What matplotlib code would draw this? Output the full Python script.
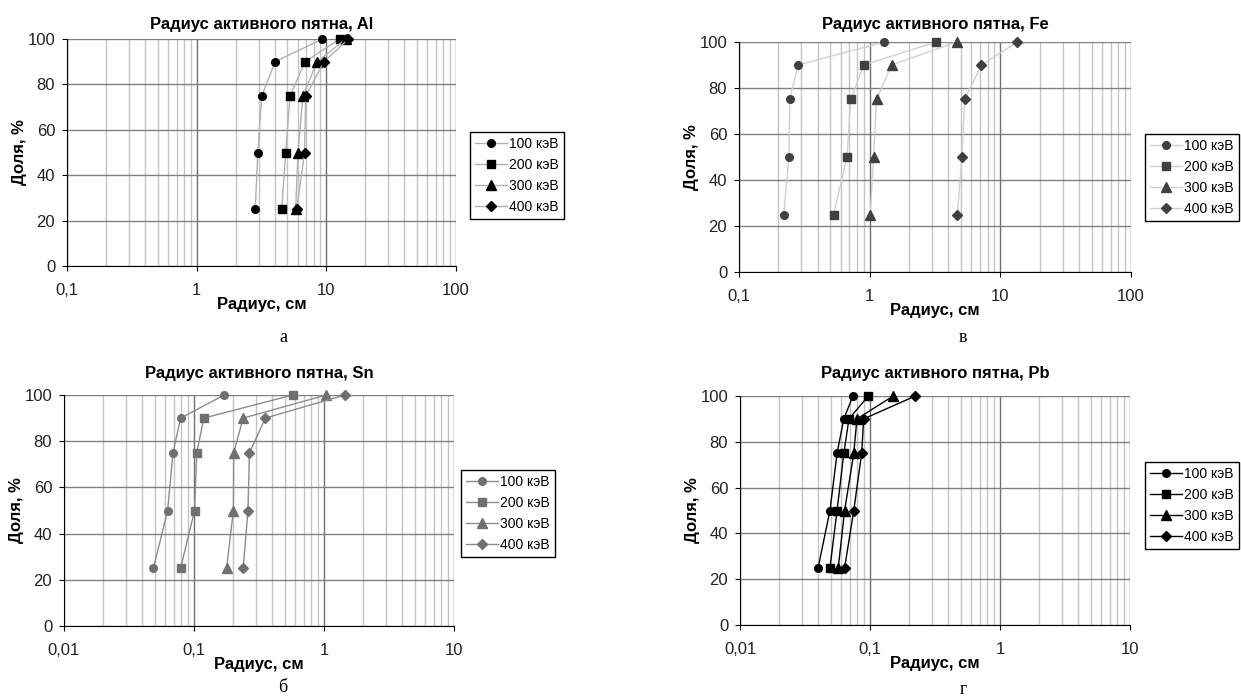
import numpy as np
import matplotlib.pyplot as plt
from matplotlib.ticker import FixedLocator, FixedFormatter, LogLocator, NullFormatter

plt.rcParams['font.family'] = ['Liberation Sans', 'DejaVu Sans']

# доля, %
dolya = [25, 50, 75, 90, 100]
energies = ['100 кэВ', '200 кэВ', '300 кэВ', '400 кэВ']

# радиус, см
r_al = [[2.83, 2.96, 3.18, 4.03, 9.3],
        [4.53, 4.86, 5.25, 6.85, 12.7],
        [5.8, 6.05, 6.6, 8.5, 14.1],
        [5.9, 6.8, 6.93, 9.6, 14.8]]
r_fe = [[0.22, 0.241, 0.245, 0.283, 1.29],
        [0.53, 0.67, 0.716, 0.90, 3.23],
        [1.01, 1.07, 1.13, 1.47, 4.64],
        [4.68, 5.08, 5.34, 7.16, 13.5]]
r_sn = [[0.0487, 0.0627, 0.0689, 0.0789, 0.171],
        [0.0789, 0.101, 0.105, 0.119, 0.574],
        [0.178, 0.201, 0.202, 0.239, 1.04],
        [0.239, 0.26, 0.267, 0.354, 1.45]]
r_pb = [[0.0399, 0.0492, 0.0558, 0.0629, 0.0739],
        [0.0492, 0.0558, 0.0629, 0.0689, 0.097],
        [0.057, 0.0638, 0.075, 0.0793, 0.151],
        [0.0638, 0.075, 0.0863, 0.0894, 0.223]]

ticks_a = [0.1, 1, 10, 100]
labels_a = ['0,1', '1', '10', '100']
ticks_b = [0.01, 0.1, 1, 10]
labels_b = ['0,01', '0,1', '1', '10']
y_ticks = [0, 20, 40, 60, 80, 100]

markers = ['o', 's', '^', 'D']
msizes = [5.5, 6, 6.5, 5]

W, H = 1241, 698


def frac_rect(x0, y0, x1, y1):
    # пиксели -> доли фигуры
    return [x0 / W, 1 - y1 / H, (x1 - x0) / W, (y1 - y0) / H]


panels = [
    # data, title, ticks, labels, axes px, marker color, line color, legend (right, top) px, caption, title pad
    (r_al, 'Радиус активного пятна, Al', ticks_a, labels_a, (67, 39, 456, 266),
     'black', '#b0b0b0', (564, 132), ('а', 283, 338), 7),
    (r_fe, 'Радиус активного пятна, Fe', ticks_a, labels_a, (739, 42, 1131, 272),
     '#404040', '#d0d0d0', (1239, 134), ('в', 963, 338), 9),
    (r_sn, 'Радиус активного пятна, Sn', ticks_b, labels_b, (64, 395, 454, 626),
     '#707070', '#8c8c8c', (555, 470), ('б', 283, 687), 12),
    (r_pb, 'Радиус активного пятна, Pb', ticks_b, labels_b, (740, 396, 1130, 625),
     'black', 'black', (1239, 462), ('г', 963, 689), 13),
]

fig = plt.figure(figsize=(W / 100, H / 100), dpi=100)

for data, title, ticks, labels, apx, mcol, lcol, lpx, cap, tpad in panels:
    ax = fig.add_axes(frac_rect(*apx))
    for i, r in enumerate(data):
        ax.plot(r, dolya, color=lcol, lw=1, marker=markers[i], ms=msizes[i],
                mfc=mcol, mec=mcol, label=energies[i], zorder=3, clip_on=False)
    ax.set_xscale('log')
    ax.set_xlim(ticks[0], ticks[-1])
    ax.set_ylim(0, 100)
    ax.xaxis.set_major_locator(FixedLocator(ticks))
    ax.xaxis.set_major_formatter(FixedFormatter(labels))
    ax.xaxis.set_minor_locator(LogLocator(base=10, subs=np.arange(2, 10)))
    ax.xaxis.set_minor_formatter(NullFormatter())
    ax.set_yticks(y_ticks)
    ax.grid(True, which='major', axis='x', color='#707070', lw=1)
    ax.grid(True, which='minor', axis='x', color='#c4c4c4', lw=1)
    ax.grid(True, which='major', axis='y', color='#808080', lw=1)
    ax.set_axisbelow(True)
    for s in ['top', 'right']:
        ax.spines[s].set_visible(False)
    ax.tick_params(which='major', direction='out', length=3.5, labelsize=12,
                   colors='black', labelcolor='#222222')
    ax.tick_params(axis='x', which='major', pad=9)
    ax.tick_params(axis='y', which='major', pad=5)
    ax.tick_params(which='minor', length=0)
    ax.set_title(title, fontsize=12, fontweight='bold', pad=tpad)
    ax.set_xlabel('Радиус, см', fontsize=12, fontweight='bold', labelpad=-1)
    ax.set_ylabel('Доля, %', fontsize=12, fontweight='bold', labelpad=0)
    leg = ax.legend(loc='upper right', bbox_to_anchor=(lpx[0] / W, 1 - lpx[1] / H),
                    bbox_transform=fig.transFigure, borderaxespad=0,
                    fontsize=10, frameon=True, fancybox=False, edgecolor='black',
                    framealpha=1, handlelength=2.3, handletextpad=0.2,
                    borderpad=0.35, labelspacing=0.5, numpoints=1)
    leg.get_frame().set_linewidth(1)
    fig.text(cap[1] / W, 1 - cap[2] / H, cap[0], fontsize=13,
             family=['Liberation Serif', 'DejaVu Serif'], ha='center', va='center')

fig.savefig('out.png', dpi=100)
